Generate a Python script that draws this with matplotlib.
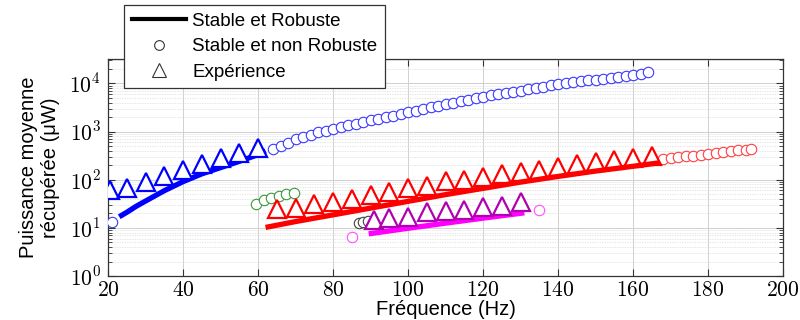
import matplotlib
matplotlib.use("Agg")
import matplotlib.pyplot as plt
from matplotlib.lines import Line2D
from matplotlib.ticker import FixedLocator, FixedFormatter, LogLocator, NullFormatter

plt.rcParams['font.family'] = ['Liberation Sans', 'DejaVu Sans']
plt.rcParams['mathtext.fontset'] = 'cm'

# ---- data ----
blue_line_x = [23, 25, 27.5, 30, 35, 40, 45, 50, 55, 60, 62]
blue_line_y = [17, 21, 28, 36, 59, 91, 132, 178, 240, 331, 398]
blue_tri_x = [20.5, 25, 30, 35, 40, 45, 50, 55, 60]
blue_tri_y = [62, 68, 90, 119, 157, 209, 281, 358, 459]
blue_circ_x = [21] + list(range(64, 165, 2))
blue_circ_y = [13, 427, 500, 589, 692, 776, 851, 955, 1047, 1148, 1259, 1349, 1445,
               1585, 1698, 1862, 1995, 2138, 2344, 2512, 2692, 2951, 3162, 3388,
               3715, 3981, 4266, 4571, 4898, 5248, 5623, 5888, 6310, 6761, 7079,
               7586, 8128, 8511, 9120, 9550, 10000, 10470, 10960, 11480, 12020,
               12590, 13180, 13800, 14450, 15140, 15850, 16980]

red_line_x = [62, 70, 80, 90, 100, 110, 120, 130, 140, 150, 160, 167]
red_line_y = [10.2, 13.5, 18.6, 25.7, 35.5, 49, 66, 89, 117, 151, 190, 224]
red_tri_x = list(range(65, 166, 5))
red_tri_y = [24.5, 26, 31, 35, 40, 47, 55, 68, 75, 92, 99, 114, 130, 145, 161,
             184, 209, 230, 257, 283, 307]
red_circ_x = [168, 170, 172, 174, 176, 178, 180, 182, 184, 186, 188, 190, 191.5]
red_circ_y = [275, 285, 295, 305, 315, 330, 345, 360, 375, 390, 405, 420, 435]

green_circ_x = [59.5, 61.5, 63.5, 65.5, 67.5, 69.5]
green_circ_y = [32, 38, 41, 46, 50, 54]

gray_circ_x = [86.8, 88.1, 89.4]
gray_circ_y = [12.9, 13.5, 14.2]

mag_line_x = [89.5, 100, 110, 120, 131]
mag_line_y = [7.5, 9.8, 12.5, 15.9, 20.5]
mag_circ_x = [85, 135]
mag_circ_y = [6.6, 23.6]
purple_tri_x = [91, 95, 100, 105, 110, 115, 120, 125, 130]
purple_tri_y = [14.6, 15.8, 17, 21, 22, 24, 27, 28, 34]

x_ticks = [20, 40, 60, 80, 100, 120, 140, 160, 180, 200]
y_ticks = [1, 10, 100, 1000, 10000]
y_tick_labels = ['$10^{0}$', '$10^{1}$', '$10^{2}$', '$10^{3}$', '$10^{4}$']

legend_labels = ['Stable et Robuste', 'Stable et non Robuste', 'Expérience']

# ---- figure ----
fig = plt.figure(figsize=(8, 3.2), dpi=100)
ax = fig.add_axes([0.135, 0.1375, 0.844, 0.678])

LW = 3.8
TRI_MS = 13
TRI_MEW = 1.6
CIRC_MS = 7.5
CIRC_MEW = 0.8

def tri(x, y, c):
    ax.plot(x, y, ls='none', marker='^', ms=TRI_MS, mfc='white', mec=c,
            mew=TRI_MEW, zorder=4)

def circ(x, y, c):
    ax.plot(x, y, ls='none', marker='o', ms=CIRC_MS, mfc='white', mec=c,
            mew=CIRC_MEW, zorder=3)

# blue
circ(blue_circ_x, blue_circ_y, '#3a3aff')
ax.plot(blue_line_x, blue_line_y, color='#0000ff', lw=LW, solid_capstyle='butt', zorder=3.5)
tri(blue_tri_x, blue_tri_y, '#0000ff')
# red
circ(red_circ_x, red_circ_y, '#ff4040')
tri(red_tri_x, red_tri_y, '#ff0000')
ax.plot(red_line_x, red_line_y, color='#ff0000', lw=LW, solid_capstyle='butt', zorder=4.5)
# green
circ(green_circ_x, green_circ_y, '#3a9a3a')
# gray
circ(gray_circ_x, gray_circ_y, '#404040')
# magenta
circ(mag_circ_x, mag_circ_y, '#ff50ff')
ax.plot(mag_line_x, mag_line_y, color='#ff00ff', lw=LW, solid_capstyle='butt', zorder=3.5)
tri(purple_tri_x, purple_tri_y, '#b000b0')

ax.set_yscale('log')
ax.set_xlim(20, 200)
ax.set_ylim(1, 3.2e4)

ax.xaxis.set_major_locator(FixedLocator(x_ticks))
ax.xaxis.set_major_formatter(FixedFormatter(['$%d$' % v for v in x_ticks]))
ax.yaxis.set_major_locator(FixedLocator(y_ticks))
ax.yaxis.set_major_formatter(FixedFormatter(y_tick_labels))
ax.yaxis.set_minor_locator(LogLocator(base=10, subs=range(2, 10)))
ax.yaxis.set_minor_formatter(NullFormatter())

ax.tick_params(which='both', direction='in', top=True, right=True,
               labelsize=15.5, color='#333333')
ax.tick_params(axis='x', pad=3)
ax.tick_params(axis='y', pad=5)
ax.tick_params(which='major', length=5, width=0.8)
ax.tick_params(which='minor', length=3, width=0.6)

ax.grid(which='major', axis='both', color='#d0d0d0', lw=0.7)
ax.grid(which='minor', axis='y', color='#dedede', lw=0.6, ls=(0, (1, 1)))
ax.set_axisbelow(True)
for s in ax.spines.values():
    s.set_color('#333333')
    s.set_linewidth(0.9)

ax.set_xlabel('Fréquence (Hz)', fontsize=14.5, labelpad=-1)
ax.set_ylabel('Puissance moyenne\nrécupérée (μW)', fontsize=14.5, labelpad=7)

handles = [
    Line2D([], [], color='black', lw=3),
    Line2D([], [], ls='none', marker='o', ms=7, mfc='white', mec='#333333', mew=0.8),
    Line2D([], [], ls='none', marker='^', ms=10, mfc='white', mec='#333333', mew=0.8),
]
leg = fig.legend(handles, legend_labels, loc='upper left',
                 bbox_to_anchor=(0.155, 0.984), fontsize=13.5, frameon=True,
                 fancybox=False, edgecolor='#333333', framealpha=1,
                 handlelength=2.9, handletextpad=0.35, borderpad=0.4,
                 labelspacing=0.45, borderaxespad=0)
leg.get_frame().set_linewidth(0.9)
leg.set_zorder(10)

fig.savefig('out.png', dpi=100)
